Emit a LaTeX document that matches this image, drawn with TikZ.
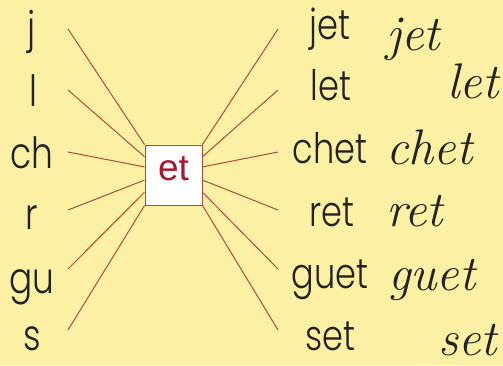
\documentclass[tikz,border=0pt]{standalone}
\usepackage{fontspec}
\usetikzlibrary{calc}
\newfontfamily\wordfont{Poppins Light}[FakeStretch=0.8]
\newfontfamily\etfont{Liberation Sans}
\definecolor{bg}{HTML}{FCF0A4}
\definecolor{ink}{HTML}{222222}
\definecolor{etred}{HTML}{A8182A}
\definecolor{raycol}{HTML}{B04A3A}
\begin{document}
\begin{tikzpicture}[x=1pt,y=-1pt,
  leftw/.style={anchor=base, inner sep=0pt, font=\fontsize{43}{43}\selectfont\wordfont, text=ink},
  rightw/.style={leftw, font=\fontsize{42}{42}\selectfont\wordfont},
  cur/.style={anchor=base west, inner sep=0pt, font=\fontsize{50}{50}\selectfont\itshape, text=ink},
  ray/.style={draw=raycol, line width=1pt},
  etbox/.style={draw=raycol, fill=white, line width=1pt, minimum width=57pt, minimum height=60pt,
    inner sep=0pt, text height=24pt, text depth=14pt, text=etred, font=\fontsize{37}{37}\selectfont\etfont}]
\fill[bg] (0,0) rectangle (503,365);
\useasboundingbox (0,0) rectangle (503,365);

\node[etbox] (box) at (173.5,175) {et};

% ray end points
\foreach \i/\y in {1/29,2/90,3/152,4/210,5/269,6/330}{
  \coordinate (L\i) at (68,\y);
  \coordinate (R\i) at (278,\y);
}
\foreach \i/\f in {1/0,2/0.2,3/0.367,4/0.583,5/0.783,6/1}{
  \draw[ray] (L\i) -- ($(box.north west)!\f!(box.south west)$);
  \draw[ray] (R\i) -- ($(box.north east)!\f!(box.south east)$);
}

% left syllables
\node[leftw] (sj)  at (32,42)  {j};
\node[leftw] (sl)  at (33,106) {l};
\node[leftw] (sch) at (32,168) {ch};
\node[leftw] (sr)  at (32,229) {r};
\node[leftw] (sgu) at (32,293) {gu};
\node[leftw] (ss)  at (32,350) {s};

% right words
\node[rightw] (wjet)  at (330,39)  {jet};
\node[rightw] (wlet)  at (331,100) {let};
\node[rightw] (wchet) at (330,163) {chet};
\node[rightw] (wret)  at (332,226) {ret};
\node[rightw] (wguet) at (330,288) {guet};
\node[rightw] (wset)  at (330,350) {set};

% cursive words
\node[cur] (cjet)  at (386,50)  {jet};
\node[cur] (clet)  at (447,98)  {let};
\node[cur] (cchet) at (386,164) {chet};
\node[cur] (cret)  at (386,226) {ret};
\node[cur] (cguet) at (388,290) {guet};
\node[cur] (cset)  at (438,355) {set};
\end{tikzpicture}
\end{document}
